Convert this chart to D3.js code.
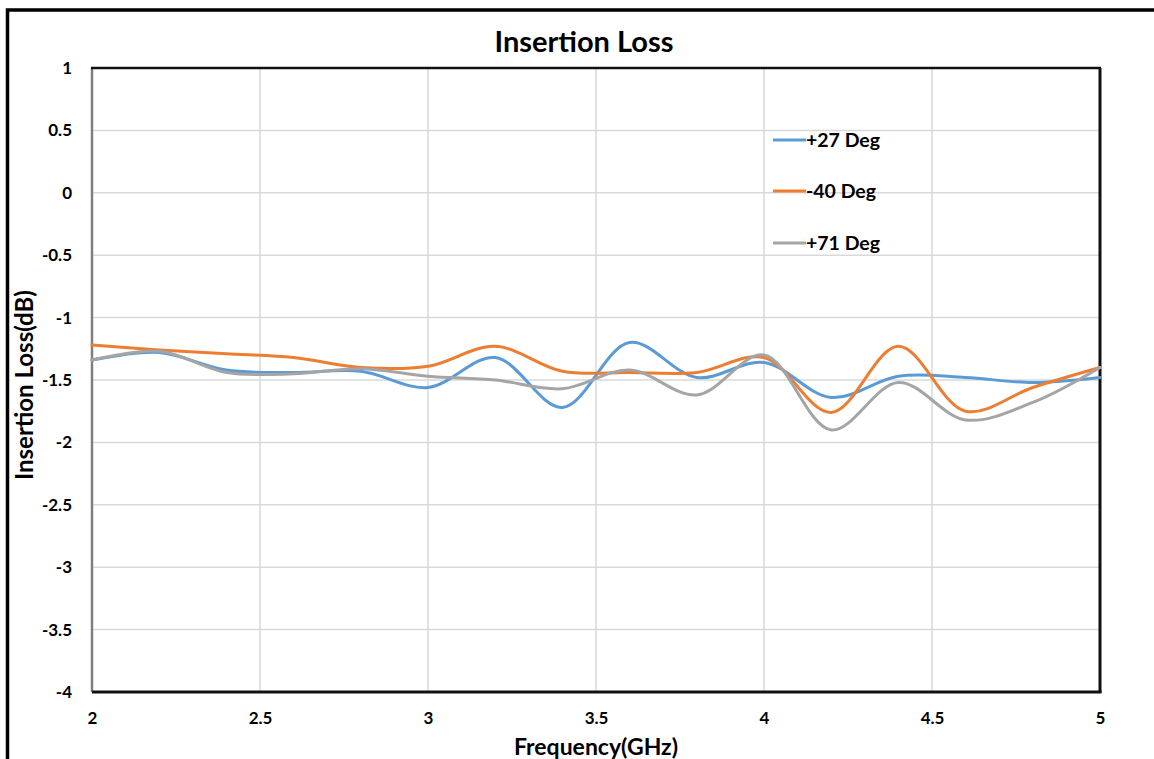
<!DOCTYPE html>
<html><head><meta charset="utf-8">
<script src="https://cdn.jsdelivr.net/npm/d3@7"></script>
<style>
body{margin:0;background:#fff;}
text{font-family:Lato,"Open Sans",sans-serif;font-weight:bold;fill:#000;}
</style></head><body>
<svg id="c" width="1154" height="759"></svg>
<script>
const freqs = [2.0,2.2,2.4,2.6,2.8,3.0,3.2,3.4,3.6,3.8,4.0,4.2,4.4,4.6,4.8,5.0];
const deg27 = [-1.34,-1.28,-1.42,-1.44,-1.43,-1.56,-1.32,-1.72,-1.20,-1.48,-1.36,-1.64,-1.47,-1.48,-1.52,-1.48];
const degM40 = [-1.22,-1.26,-1.29,-1.32,-1.40,-1.39,-1.23,-1.43,-1.44,-1.44,-1.32,-1.76,-1.23,-1.75,-1.56,-1.40];
const deg71 = [-1.34,-1.27,-1.44,-1.45,-1.41,-1.47,-1.50,-1.57,-1.42,-1.62,-1.30,-1.90,-1.52,-1.82,-1.68,-1.40];
const seriesNames = ["+27 Deg","-40 Deg","+71 Deg"];
const seriesColors = ["#5B9BD5","#ED7D31","#A5A5A5"];
const xTicks = [2,2.5,3,3.5,4,4.5,5];
const yTicks = [1,0.5,0,-0.5,-1,-1.5,-2,-2.5,-3,-3.5,-4];

const svg = d3.select("#c");
const L=92,R=1100,T=68,B=692;
const x = d3.scaleLinear().domain([2,5]).range([L,R]);
const y = d3.scaleLinear().domain([-4,1]).range([B,T]);
const FONT = "Lato,'Open Sans',sans-serif";

// outer frame
svg.append("rect").attr("x",7.5).attr("y",10).attr("width",1300).attr("height",900)
  .attr("fill","none").attr("stroke","#000").attr("stroke-width",3.5);

// grid
svg.append("g").selectAll("line").data(xTicks).join("line")
  .attr("x1",d=>x(d)).attr("x2",d=>x(d)).attr("y1",T).attr("y2",B)
  .attr("stroke","#d9d9d9").attr("stroke-width",1.5);
svg.append("g").selectAll("line").data(yTicks).join("line")
  .attr("x1",L).attr("x2",R).attr("y1",d=>y(d)).attr("y2",d=>y(d))
  .attr("stroke","#d9d9d9").attr("stroke-width",1.5);

// axes labels via d3 axes
const fmt = d => String(d);
const xa = svg.append("g").attr("transform",`translate(0,${B})`)
  .call(d3.axisBottom(x).tickValues(xTicks).tickSize(0).tickPadding(20).tickFormat(fmt));
xa.select(".domain").remove();
xa.selectAll("text").attr("font-size",17).style("font-family",FONT).style("font-weight","bold");
const ya = svg.append("g").attr("transform",`translate(${L},0)`)
  .call(d3.axisLeft(y).tickValues(yTicks).tickSize(0).tickPadding(20).tickFormat(fmt));
ya.select(".domain").remove();
ya.selectAll("text").attr("font-size",17).style("font-family",FONT).style("font-weight","bold");

// plot border
svg.append("line").attr("x1",L).attr("x2",L).attr("y1",T).attr("y2",B).attr("stroke","#7f7f7f").attr("stroke-width",2.5);
svg.append("line").attr("x1",L-1).attr("x2",R+1).attr("y1",T).attr("y2",T).attr("stroke","#111").attr("stroke-width",2.5);
svg.append("line").attr("x1",R).attr("x2",R).attr("y1",T).attr("y2",B+1).attr("stroke","#111").attr("stroke-width",3);
svg.append("line").attr("x1",L).attr("x2",R+1.5).attr("y1",B).attr("y2",B).attr("stroke","#111").attr("stroke-width",3);

// series
const all = [deg27,degM40,deg71];
const line = d3.line().x((d,i)=>x(freqs[i])).y(d=>y(d)).curve(d3.curveCatmullRom.alpha(0.5));
all.forEach((s,k)=>{
  svg.append("path").datum(s).attr("d",line).attr("fill","none")
    .attr("stroke",seriesColors[k]).attr("stroke-width",3).attr("stroke-linecap","round");
});

// legend
const legY=[140,191,243];
seriesNames.forEach((n,k)=>{
  svg.append("line").attr("x1",773).attr("x2",806).attr("y1",legY[k]).attr("y2",legY[k])
    .attr("stroke",seriesColors[k]).attr("stroke-width",3);
  svg.append("text").attr("x",806).attr("y",legY[k]+7).attr("font-size",19.5).text(n);
});

// titles
svg.append("text").attr("x",584).attr("y",52).attr("text-anchor","middle").attr("font-size",29).text("Insertion Loss");
svg.append("text").attr("x",596).attr("y",755).attr("text-anchor","middle").attr("font-size",23).text("Frequency(GHz)");
svg.append("text").attr("transform","translate(33,385) rotate(-90)").attr("text-anchor","middle").attr("font-size",24).text("Insertion Loss(dB)");
</script></body></html>
